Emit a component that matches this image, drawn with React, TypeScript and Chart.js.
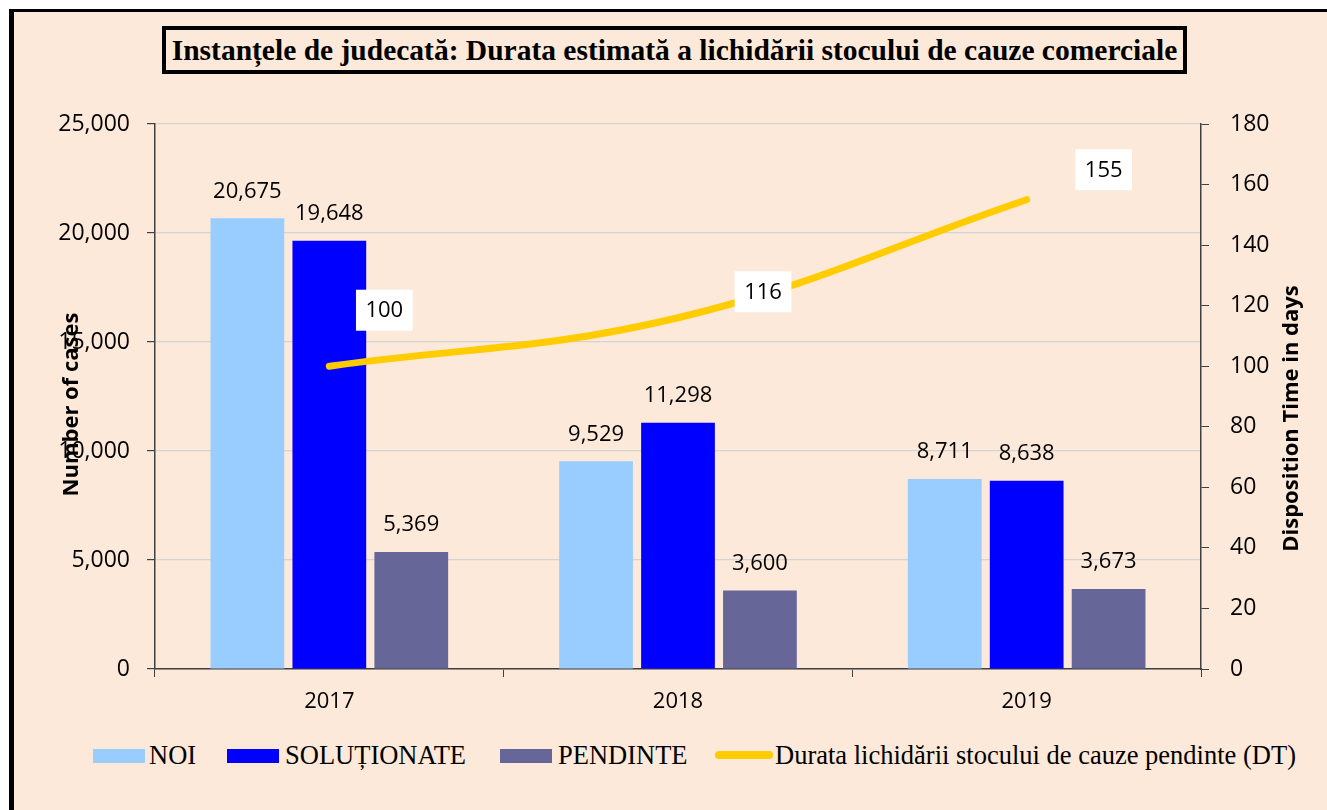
import React, { useEffect, useRef } from "react";
import { Chart, registerables } from "chart.js";

Chart.register(...registerables);

// ---- data ----
const years = ["2017", "2018", "2019"];
const noi = [20675, 9529, 8711];
const solutionate = [19648, 11298, 8638];
const pendinte = [5369, 3600, 3673];
const dispositionTime = [100, 116, 155];

const seriesNames = [
  "NOI",
  "SOLUȚIONATE",
  "PENDINTE",
  "Durata lichidării stocului de cauze pendinte (DT)",
];
const titleText =
  "Instanțele de judecată: Durata estimată a lichidării stocului de cauze comerciale";
const leftAxisTitle = "Number of cases";
const rightAxisTitle = "Disposition Time in days";

// ---- style ----
const BG = "#FDE9D9";
const C_NOI = "#99CCFF";
const C_SOL = "#0000FF";
const C_PEN = "#666699";
const C_DT = "#FFCC00";
const AXIS = "#404040";
const NUM_FONT = "'Open Sans', sans-serif";
const SERIF = "'Liberation Serif', 'Times New Roman', serif";
const dtLabelOffsets = [
  [55, -56],
  [85, -26],
  [77, -30],
];

const fmt = (v: number) => v.toLocaleString("en-US");

const labelPlugin = {
  id: "valueLabels",
  afterDatasetsDraw(chart: any) {
    const ctx = chart.ctx;
    ctx.save();
    ctx.font = `22px ${NUM_FONT}`;
    ctx.textAlign = "center";
    ctx.textBaseline = "middle";
    for (let d = 0; d < 3; d++) {
      const meta = chart.getDatasetMeta(d);
      meta.data.forEach((el: any, i: number) => {
        const v = chart.data.datasets[d].data[i] as number;
        ctx.fillStyle = "#000";
        ctx.fillText(fmt(v), el.x, el.y - 27);
      });
    }
    const lm = chart.getDatasetMeta(3);
    lm.data.forEach((el: any, i: number) => {
      const v = chart.data.datasets[3].data[i] as number;
      const txt = String(v);
      const [dx, dy] = dtLabelOffsets[i];
      const w = ctx.measureText(txt).width + 19;
      const h = 41;
      const cx = el.x + dx;
      const cy = el.y + dy;
      ctx.fillStyle = "#FFFFFF";
      ctx.fillRect(cx - w / 2, cy - h / 2, w, h);
      ctx.fillStyle = "#000";
      ctx.fillText(txt, cx, cy + 1);
    });

    // axis titles (both read bottom-to-top)
    const area = chart.chartArea;
    const mid = (area.top + area.bottom) / 2;
    ctx.font = `bold 22px ${NUM_FONT}`;
    ctx.fillStyle = "#000";
    const drawRot = (txt: string, x: number, y: number) => {
      ctx.save();
      ctx.translate(x, y);
      ctx.rotate(-Math.PI / 2);
      ctx.fillText(txt, 0, 0);
      ctx.restore();
    };
    drawRot(leftAxisTitle, area.left - 83, mid + 8);
    drawRot(rightAxisTitle, area.right + 91, mid + 22);
    ctx.restore();
  },
};

export default function App() {
  const canvasRef = useRef<HTMLCanvasElement | null>(null);

  useEffect(() => {
    if (!canvasRef.current) return;
    const chart = new Chart(canvasRef.current, {
      type: "bar",
      data: {
        labels: years,
        datasets: [
          {
            type: "bar",
            label: seriesNames[0],
            data: noi,
            backgroundColor: C_NOI,
            yAxisID: "y",
            order: 1,
          },
          {
            type: "bar",
            label: seriesNames[1],
            data: solutionate,
            backgroundColor: C_SOL,
            yAxisID: "y",
            order: 1,
          },
          {
            type: "bar",
            label: seriesNames[2],
            data: pendinte,
            backgroundColor: C_PEN,
            yAxisID: "y",
            order: 1,
          },
          {
            type: "line",
            label: seriesNames[3],
            data: dispositionTime,
            borderColor: C_DT,
            backgroundColor: C_DT,
            borderWidth: 7,
            borderCapStyle: "round",
            tension: 0.4,
            pointRadius: 3,
            pointBackgroundColor: C_DT,
            pointBorderWidth: 0,
            yAxisID: "y1",
            order: 0,
          } as any,
        ],
      },
      options: {
        responsive: true,
        maintainAspectRatio: false,
        animation: false,
        layout: { padding: { top: 124, left: 0, right: 0, bottom: 0 } },
        datasets: {
          bar: { categoryPercentage: 0.705, barPercentage: 0.9 },
        } as any,
        plugins: {
          legend: { display: false },
          tooltip: { enabled: false },
          title: { display: false },
        },
        scales: {
          x: {
            offset: true,
            grid: {
              display: true,
              offset: true,
              drawOnChartArea: false,
              drawTicks: true,
              tickLength: 8,
              color: AXIS,
            },
            border: { display: true, color: AXIS, width: 1.5 },
            ticks: {
              color: "#000",
              font: { family: NUM_FONT, size: 22 },
              padding: 12,
            },
            afterFit(scale: any) {
              scale.height = 61;
            },
          },
          y: {
            position: "left",
            min: 0,
            max: 25000,
            ticks: {
              stepSize: 5000,
              color: "#000",
              font: { family: NUM_FONT, size: 23 },
              padding: 17,
              callback: (v: any) => fmt(Number(v)),
            },
            grid: {
              color: "#D4D4D4",
              tickColor: AXIS,
              tickLength: 8,
              lineWidth: 1.2,
            },
            border: { display: true, color: AXIS, width: 1.5 },
            afterFit(scale: any) {
              scale.width = 155;
            },
          },
          y1: {
            position: "right",
            min: 0,
            max: 180,
            ticks: {
              stepSize: 20,
              color: "#000",
              font: { family: NUM_FONT, size: 23 },
              padding: 21,
            },
            grid: {
              drawOnChartArea: false,
              tickColor: AXIS,
              tickLength: 8,
            },
            border: { display: true, color: AXIS, width: 1.5 },
            afterFit(scale: any) {
              scale.width = 126;
            },
          },
        },
      },
      plugins: [labelPlugin],
    });
    return () => chart.destroy();
  }, []);

  const legendText: React.CSSProperties = {
    position: "absolute",
    top: 742,
    fontFamily: SERIF,
    fontSize: 26.5,
    lineHeight: "26px",
    color: "#000",
    whiteSpace: "nowrap",
  };
  const box = (left: number, color: string): React.CSSProperties => ({
    position: "absolute",
    left,
    top: 749,
    width: 52,
    height: 14,
    background: color,
  });

  return (
    <div
      style={{
        position: "fixed",
        left: 0,
        top: 0,
        width: 1327,
        height: 810,
        overflow: "hidden",
        background: "#FFFFFF",
      }}
    >
      <div
        style={{
          position: "absolute",
          left: 9,
          top: 9,
          width: 1340,
          height: 820,
          background: BG,
          borderTop: "3px solid #000",
          borderLeft: "5px solid #000",
        }}
      />
      <div
        style={{
          position: "absolute",
          left: 0,
          top: 0,
          width: 1327,
          height: 730,
        }}
      >
        <canvas ref={canvasRef} />
      </div>
      <div
        style={{
          position: "absolute",
          left: 162,
          top: 26,
          width: 1025,
          height: 48,
          boxSizing: "border-box",
          border: "4px solid #000",
          background: BG,
          display: "flex",
          alignItems: "center",
          justifyContent: "center",
          fontFamily: SERIF,
          fontWeight: "bold",
          fontSize: 29.5,
          color: "#000",
          whiteSpace: "nowrap",
        }}
      >
        {titleText}
      </div>
      <div style={box(93, C_NOI)} />
      <div style={{ ...legendText, left: 149 }}>{seriesNames[0]}</div>
      <div style={box(227, C_SOL)} />
      <div style={{ ...legendText, left: 285 }}>{seriesNames[1]}</div>
      <div style={box(500, C_PEN)} />
      <div style={{ ...legendText, left: 558 }}>{seriesNames[2]}</div>
      <div
        style={{
          position: "absolute",
          left: 715,
          top: 751,
          width: 58,
          height: 8,
          borderRadius: 4,
          background: C_DT,
        }}
      />
      <div style={{ ...legendText, left: 775 }}>{seriesNames[3]}</div>
    </div>
  );
}
